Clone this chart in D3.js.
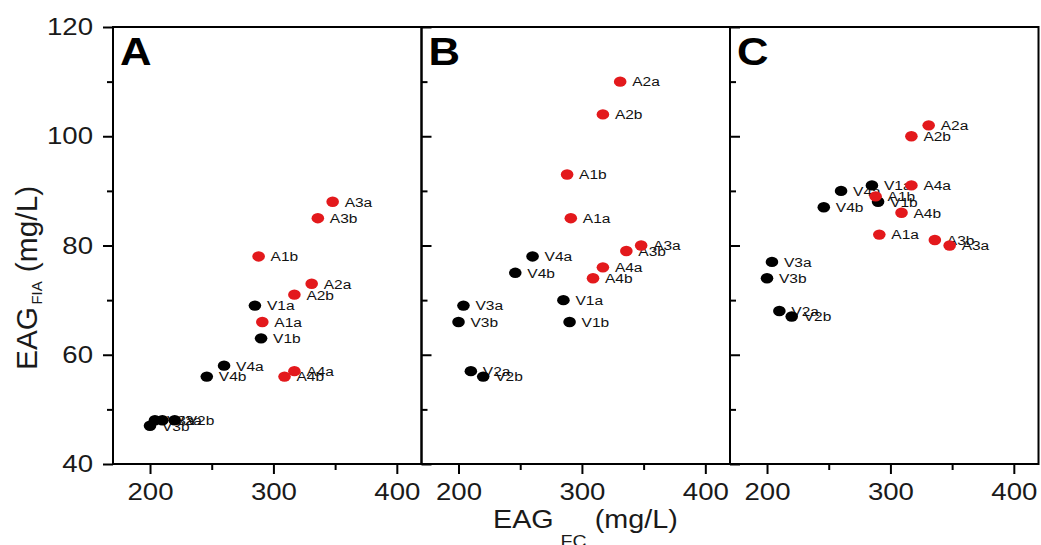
<!DOCTYPE html>
<html><head><meta charset="utf-8">
<script src="https://cdn.jsdelivr.net/npm/d3@7"></script>
<style>html,body{margin:0;padding:0;background:#fff;} svg{display:block;font-family:"Liberation Sans",Arial,Helvetica,sans-serif;}</style>
</head><body><svg id="chart" width="1041" height="545"></svg>
<script>
// ---- data ----
const categories = ["V1a","V1b","V2a","V2b","V3a","V3b","V4a","V4b","A1a","A1b","A2a","A2b","A3a","A3b","A4a","A4b"];
const fcValues   = [285, 290, 210, 220, 204, 200, 260, 246, 291, 288, 331, 317, 348, 336, 317, 309];
const fiaA       = [69, 63, 48, 48, 48, 47, 58, 56, 66, 78, 73, 71, 88, 85, 57, 56];
const fiaB       = [70, 66, 57, 56, 69, 66, 78, 75, 85, 93, 110, 104, 80, 79, 76, 74];
const fiaC       = [91, 88, 68, 67, 77, 74, 90, 87, 82, 89, 102, 100, 80, 81, 91, 86];
const panelLetters = ["A","B","C"];
const xMajorTicks = [200, 300, 400];
const xMinorTicks = [250, 350];
const yMajorTicks = [40, 60, 80, 100, 120];
const yMinorTicks = [50, 70, 90, 110];

// ---- layout ----
const SX = 1.15;               // horizontal stretch of the reference
const svg = d3.select("#chart");
svg.append("rect").attr("width",1041).attr("height",545).attr("fill","#fff");
const edges = [113, 421.5, 730, 1038.5];
const yTop = 27, yBot = 464;
const y = d3.scaleLinear().domain([40,120]).range([yBot, yTop]);
const RED = "#e3191c", BLACK = "#000";
const panels = [fiaA, fiaB, fiaC];

function styleAxis(g){
  g.select(".domain").remove();
  g.selectAll("line").attr("stroke","#000").attr("stroke-width",2);
  g.attr("font-family",null).attr("font-size",24);
  g.selectAll("text").attr("fill","#1a1a1a");
}

panels.forEach((fia, i) => {
  const x0 = edges[i], x1 = edges[i+1];
  const x = d3.scaleLinear().domain([170,420]).range([x0, x1]);
  const g = svg.append("g");

  // bottom axis
  const gx = g.append("g").attr("transform",`translate(0,${yBot})`)
    .call(d3.axisBottom(x).tickValues(xMajorTicks).tickSize(10).tickPadding(9).tickFormat(d3.format("d")));
  styleAxis(gx);
  gx.selectAll("text").attr("transform",`scale(${SX},1)`);
  const gxm = g.append("g").attr("transform",`translate(0,${yBot})`)
    .call(d3.axisBottom(x).tickValues(xMinorTicks).tickSize(6).tickFormat(""));
  styleAxis(gxm);

  // left axis
  if (i === 0) {
    const gy = g.append("g").attr("transform",`translate(${x0},0)`)
      .call(d3.axisLeft(y).tickValues(yMajorTicks).tickSize(10).tickPadding(10).tickFormat(d3.format("d")));
    styleAxis(gy);
    gy.selectAll("text").attr("x", -20/SX).attr("transform",`scale(${SX},1)`);
    const gym = g.append("g").attr("transform",`translate(${x0},0)`)
      .call(d3.axisLeft(y).tickValues(yMinorTicks).tickSize(6).tickFormat(""));
    styleAxis(gym);
  } else {
    const gy = g.append("g").attr("transform",`translate(${x0},0)`)
      .call(d3.axisRight(y).tickValues(yMajorTicks).tickSize(10).tickFormat(""));
    styleAxis(gy);
    const gym = g.append("g").attr("transform",`translate(${x0},0)`)
      .call(d3.axisRight(y).tickValues(yMinorTicks).tickSize(6).tickFormat(""));
    styleAxis(gym);
  }

  // frame
  g.append("rect").attr("x",x0).attr("y",yTop).attr("width",x1-x0).attr("height",yBot-yTop)
    .attr("fill","none").attr("stroke","#000").attr("stroke-width",2);

  // panel letter
  g.append("text").attr("transform",`translate(${x0+7},65) scale(${SX},1)`)
    .attr("font-size",38).attr("font-weight","bold").attr("fill","#000").text(panelLetters[i]);

  const idx = d3.range(categories.length);
  // labels
  g.selectAll(".lbl").data(idx).join("text").attr("class","lbl")
    .attr("transform", d => `translate(${x(fcValues[d])+12},${y(fia[d])}) scale(${SX},1)`)
    .attr("dy","0.36em").attr("font-size",13.5).attr("fill","#111")
    .text(d => categories[d]);
  // dots
  g.selectAll(".dot").data(idx).join("ellipse").attr("class","dot")
    .attr("cx", d => x(fcValues[d])).attr("cy", d => y(fia[d]))
    .attr("rx",6.3).attr("ry",5.2)
    .attr("fill", d => categories[d][0] === "A" ? RED : BLACK);
});

// axis titles
const xt = svg.append("text").attr("transform",`translate(493,528) scale(${SX},1)`)
  .attr("font-size",25).attr("fill","#1a1a1a");
xt.append("tspan").text("EAG");
xt.append("tspan").attr("font-size",17).attr("dx",6).attr("dy",19).text("FC");
xt.append("tspan").attr("dx",7).attr("dy",-19).text("(mg/L)");

const yt = svg.append("text").attr("transform",`translate(37,370) rotate(-90) scale(1.15,${SX})`)
  .attr("font-size",26).attr("fill","#1a1a1a");
yt.append("tspan").text("EAG");
yt.append("tspan").attr("font-size",13).attr("dx",2).attr("dy",4).text("FIA");
yt.append("tspan").attr("dx",8).attr("dy",-4).text("(mg/L)");
</script></body></html>
